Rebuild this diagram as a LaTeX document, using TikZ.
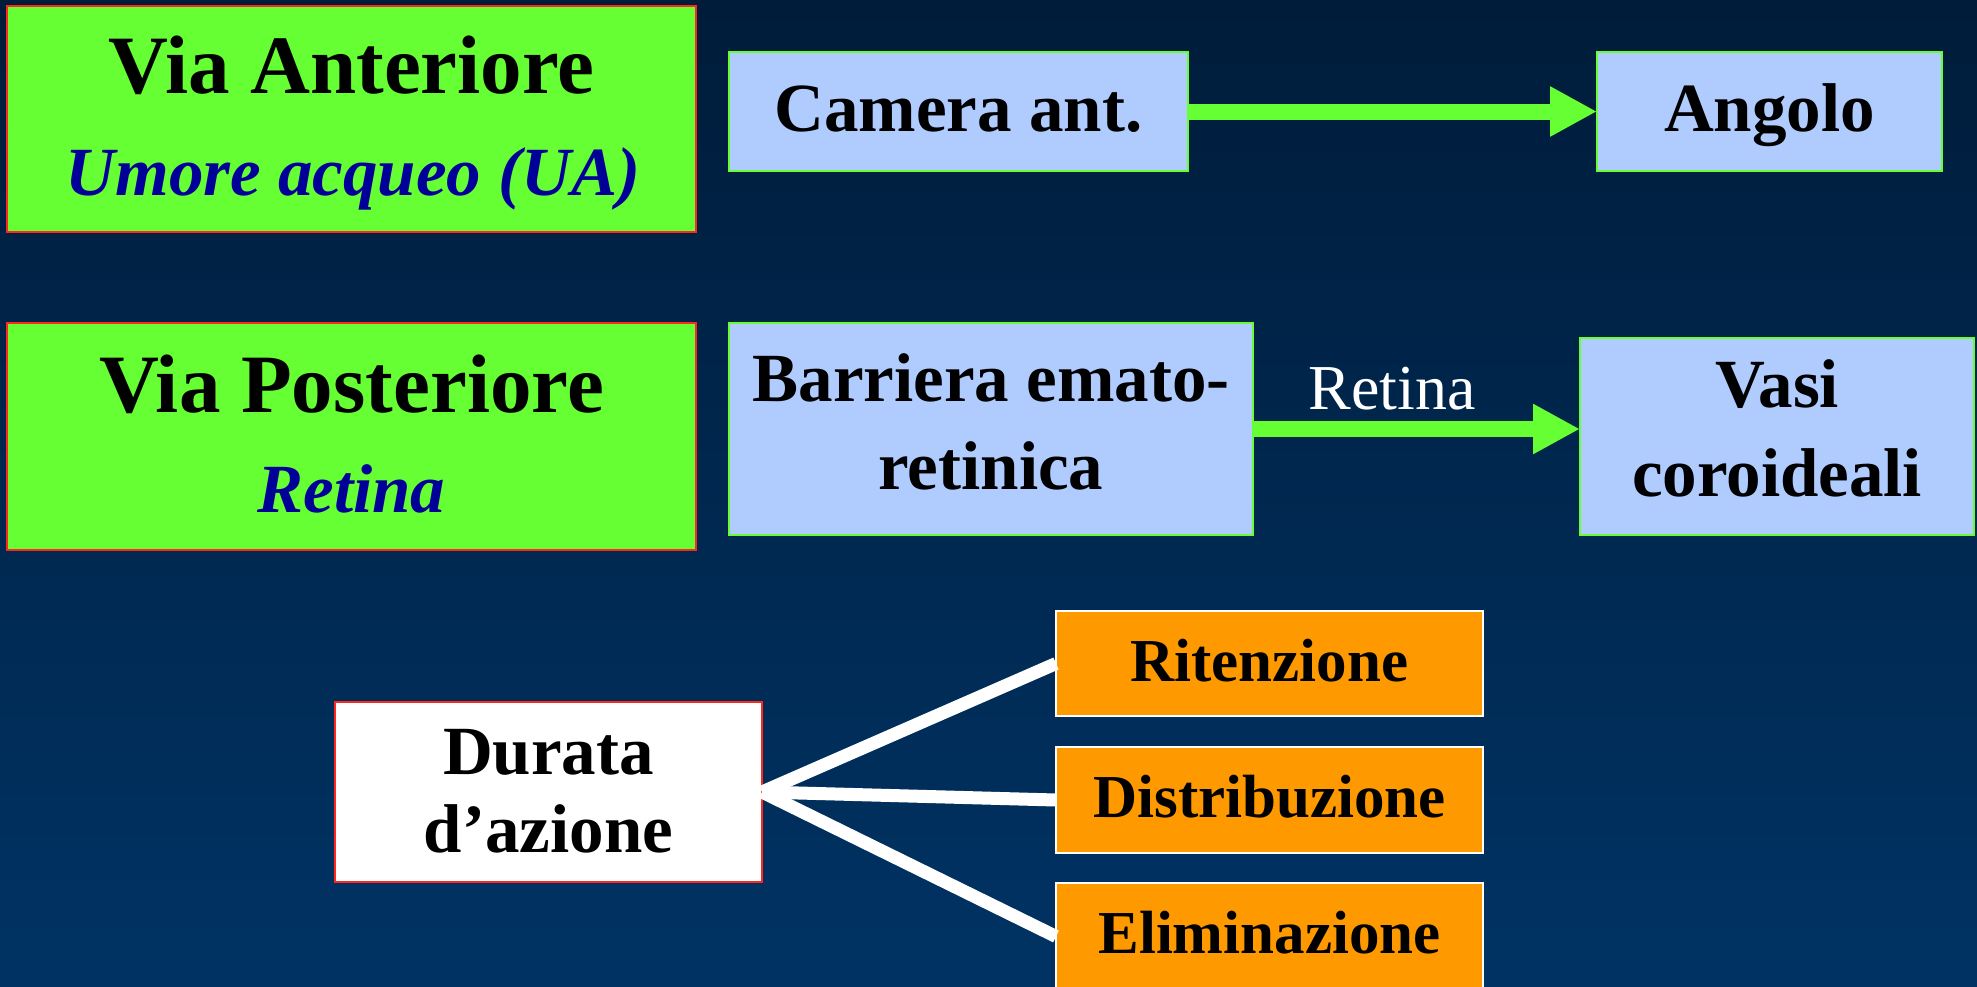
\documentclass[tikz,border=0pt]{standalone}
\usepackage{fontspec}
\setmainfont{Liberation Serif}
\usetikzlibrary{arrows.meta}
\definecolor{bgtop}{RGB}{0,28,58}
\definecolor{bgbot}{RGB}{0,51,100}
\definecolor{lgreen}{RGB}{102,255,51}
\definecolor{bred}{RGB}{255,40,30}
\definecolor{lblue}{RGB}{176,204,255}
\definecolor{dblue}{RGB}{0,0,153}
\definecolor{orng}{RGB}{255,153,0}
\begin{document}
\begin{tikzpicture}[x=1pt,y=-1pt,
  box/.style={draw, line width=2pt, inner sep=0pt, outer sep=0pt},
  viabox/.style={box, fill=lgreen, draw=bred, line width=2.5pt},
  bluebox/.style={box, fill=lblue, draw=lgreen},
  orbox/.style={box, fill=orng, draw=white},
  durbox/.style={box, fill=white, draw=bred, line width=2.5pt},
  txt/.style={anchor=base, inner sep=0pt, text=black, font=\bfseries\fontsize{69}{69}\selectfont},
  bigtxt/.style={txt, font=\bfseries\fontsize{83}{83}\selectfont},
  subtxt/.style={txt, text=dblue, font=\bfseries\itshape\fontsize{69}{69}\selectfont},
  ortxt/.style={txt, font=\bfseries\fontsize{61}{61}\selectfont},
  lbltxt/.style={anchor=base, inner sep=0pt, text=white, font=\fontsize{64}{64}\selectfont},
  garrow/.style={draw=lgreen, line width=16pt, -{Triangle[length=47pt,width=47pt]}},
  wline/.style={draw=white, line width=13pt}
]
\useasboundingbox (0,0) rectangle (1977,986);
\clip (0,0) rectangle (1977,986);
\fill[top color=bgtop, bottom color=bgbot] (0,0) rectangle (1977,986);

% row 1
\node[viabox, minimum width=689pt, minimum height=226pt] (va) at (351.5,119) {};
\node[bigtxt] (vat) at (351.5,93) {Via Anteriore};
\node[subtxt] (vas) at (353,195) {Umore acqueo (UA)};
\node[bluebox, minimum width=459pt, minimum height=119pt] (ca) at (958.5,111.5) {};
\node[txt] (cat) at (958.5,131) {Camera ant.};
\node[bluebox, minimum width=345pt, minimum height=119pt] (an) at (1769.5,111.5) {};
\node[txt] (ant) at (1769.5,131) {Angolo};
\draw[garrow] (ca.east) -- (an.west);

% row 2
\node[viabox, minimum width=689pt, minimum height=227pt] (vp) at (351.5,436.5) {};
\node[bigtxt] (vpt) at (351.5,412) {Via Posteriore};
\node[subtxt] (vps) at (351.5,512) {Retina};
\node[bluebox, minimum width=524pt, minimum height=212pt] (be) at (991,429) {};
\node[txt] (bet1) at (991,401) {Barriera emato-};
\node[txt] (bet2) at (991,489) {retinica};
\node[bluebox, minimum width=394pt, minimum height=197pt] (vc) at (1777,436.5) {};
\node[txt] (vct1) at (1777,407) {Vasi};
\node[txt] (vct2) at (1777,496) {coroideali};
\draw[garrow] (be.east) -- (be.east -| vc.west);
\node[lbltxt] (lbl) at (1392,409) {Retina};

% row 3
\node[durbox, minimum width=427pt, minimum height=180pt] (du) at (548.5,792) {};
\node[txt] (dut1) at (548.5,774) {Durata};
\node[txt] (dut2) at (548.5,852) {d’azione};
\node[orbox, minimum width=427pt, minimum height=105pt] (ri) at (1269.5,663.5) {};
\node[ortxt] (rit) at (1269.5,681) {Ritenzione};
\node[orbox, minimum width=427pt, minimum height=106pt] (di) at (1269.5,800) {};
\node[ortxt] (dit) at (1269.5,817) {Distribuzione};
\node[orbox, minimum width=427pt, minimum height=107pt] (el) at (1269.5,936.5) {};
\node[ortxt] (elt) at (1269.5,953) {Eliminazione};
\draw[wline] (du.east) -- (ri.west);
\draw[wline] (du.east) -- (di.west);
\draw[wline] (du.east) -- (el.west);
\end{tikzpicture}
\end{document}
